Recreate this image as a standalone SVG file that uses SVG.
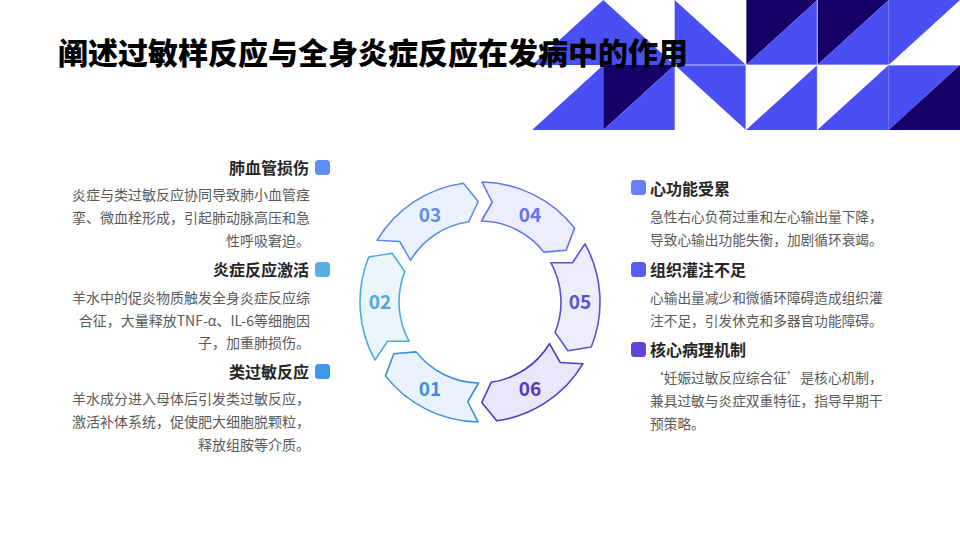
<svg xmlns="http://www.w3.org/2000/svg" xmlns:xlink="http://www.w3.org/1999/xlink" width="960" height="540" viewBox="0 0 960 540">
<style>
.t{font-family:"Noto Sans CJK SC","Noto Sans",sans-serif;}
.title{font-size:30px;font-weight:900;fill:#000;}
.h{font-size:16px;font-weight:700;fill:#262626;}
.b{font-size:14px;fill:#5a5a5a;}
.br{font-size:13.7px;fill:#5a5a5a;}
.num{font-size:19px;font-weight:600;text-anchor:middle;}
.bl{fill:#4a4ff4;}
.dk{fill:#150068;}
.seg{stroke-width:1.6;stroke-linejoin:round;}
</style>
<defs>
<path id="seg" d="M104.95,-58.18 A120,120 0 0 1 111.26,44.95 L87.9,48.72 L75.1,30.34 A81,81 0 0 0 70.84,-39.27 L92.51,-39.27 Z"/>
</defs>
<rect width="960" height="540" fill="#ffffff"/>
<g id="pattern">
<polygon class="bl" points="603.3,0 532,65 674.7,65"/>
<polygon class="bl" points="674.7,0 746,65 674.7,65"/>
<polygon class="dk" points="746,0 817.3,0 746,65"/>
<polygon class="bl" points="817.3,0 817.3,65 746,65"/>
<polygon class="dk" points="817.3,0 888.7,0 817.3,65"/>
<polygon class="bl" points="888.7,0 888.7,65 817.3,65"/>
<polygon class="bl" points="888.7,0 960,0 888.7,65"/>
<polygon class="bl" points="603.3,65 603.3,130 532,130"/>
<polygon class="dk" points="603.3,65 674.7,65 603.3,130"/>
<polygon class="bl" points="674.7,65 674.7,130 603.3,130"/>
<polygon class="bl" points="674.7,65 746,65 746,130"/>
<polygon class="bl" points="817.3,65 817.3,130 746,130"/>
<polygon class="bl" points="888.7,65 888.7,130 817.3,130"/>
<polygon class="bl" points="888.7,65 960,65 888.7,130"/>
<polygon class="dk" points="960,65 960,130 888.7,130"/>
<g stroke="#ffffff" stroke-width="1" stroke-opacity="0.7">
<line x1="674.7" y1="65" x2="960" y2="65"/>
<line x1="746" y1="0" x2="746" y2="130"/>
<line x1="817.3" y1="0" x2="817.3" y2="130"/>
</g>
</g>
<text class="t title" x="58" y="64">阐述过敏样反应与全身炎症反应在发病中的作用</text>
<g id="ring">
<g id="seg01">
<use xlink:href="#seg" class="seg" transform="translate(480,302) rotate(120)" fill="#eaf3fd" stroke="#3d8fe0"/>
<text class="t num" x="430" y="395.6" fill="#3d8fe0">01</text>
</g>
<g id="seg02">
<use xlink:href="#seg" class="seg" transform="translate(480,302) rotate(180)" fill="#eaf5fc" stroke="#4eaadd"/>
<text class="t num" x="380" y="309" fill="#4eaadd">02</text>
</g>
<g id="seg03">
<use xlink:href="#seg" class="seg" transform="translate(480,302) rotate(240)" fill="#ecf2fd" stroke="#5b8df0"/>
<text class="t num" x="430" y="222.4" fill="#5b8df0">03</text>
</g>
<g id="seg04">
<use xlink:href="#seg" class="seg" transform="translate(480,302) rotate(300)" fill="#eceefd" stroke="#6275ee"/>
<text class="t num" x="530" y="222.4" fill="#6275ee">04</text>
</g>
<g id="seg05">
<use xlink:href="#seg" class="seg" transform="translate(480,302) rotate(0)" fill="#eeedfc" stroke="#5a4fd8"/>
<text class="t num" x="580" y="309" fill="#5a4fd8">05</text>
</g>
<g id="seg06">
<use xlink:href="#seg" class="seg" transform="translate(480,302) rotate(60)" fill="#ebe7fb" stroke="#5438c2"/>
<text class="t num" x="530" y="395.6" fill="#5438c2">06</text>
</g>
</g>
<g id="item-lung" class="t">
<rect x="315" y="160" width="15" height="15" rx="3.5" fill="#5b8ff5"/>
<text class="h" x="309" y="174" text-anchor="end">肺血管损伤</text>
<text class="b" text-anchor="end"><tspan x="310" y="200">炎症与类过敏反应协同导致肺小血管痉</tspan><tspan x="310" y="223">挛、微血栓形成，引起肺动脉高压和急</tspan><tspan x="310" y="246">性呼吸窘迫。</tspan></text>
</g>
<g id="item-inflam" class="t">
<rect x="315" y="262" width="15" height="15" rx="3.5" fill="#5aaee2"/>
<text class="h" x="309" y="276" text-anchor="end">炎症反应激活</text>
<text class="b" text-anchor="end"><tspan x="310" y="303">羊水中的促炎物质触发全身炎症反应综</tspan><tspan x="310" y="326">合征，大量释放TNF-α、IL-6等细胞因</tspan><tspan x="310" y="348">子，加重肺损伤。</tspan></text>
</g>
<g id="item-anaph" class="t">
<rect x="315" y="364" width="15" height="15" rx="3.5" fill="#3e98ea"/>
<text class="h" x="309" y="378" text-anchor="end">类过敏反应</text>
<text class="b" text-anchor="end"><tspan x="310" y="404">羊水成分进入母体后引发类过敏反应，</tspan><tspan x="310" y="427">激活补体系统，促使肥大细胞脱颗粒，</tspan><tspan x="310" y="450">释放组胺等介质。</tspan></text>
</g>
<g id="item-heart" class="t">
<rect x="631" y="180" width="15" height="15" rx="3.5" fill="#6a7ff5"/>
<text class="h" x="650" y="195">心功能受累</text>
<text class="br"><tspan x="650" y="222">急性右心负荷过重和左心输出量下降，</tspan><tspan x="650" y="245">导致心输出功能失衡，加剧循环衰竭。</tspan></text>
</g>
<g id="item-perf" class="t">
<rect x="631" y="262" width="15" height="15" rx="3.5" fill="#5a5cf0"/>
<text class="h" x="650" y="276">组织灌注不足</text>
<text class="br"><tspan x="650" y="303">心输出量减少和微循环障碍造成组织灌</tspan><tspan x="650" y="326">注不足，引发休克和多器官功能障碍。</tspan></text>
</g>
<g id="item-core" class="t">
<rect x="631" y="342" width="15" height="15" rx="3.5" fill="#6545d8"/>
<text class="h" x="650" y="356">核心病理机制</text>
<text class="br"><tspan x="650" y="383">‘妊娠过敏反应综合征’是核心机制，</tspan><tspan x="650" y="406">兼具过敏与炎症双重特征，指导早期干</tspan><tspan x="650" y="429">预策略。</tspan></text>
</g>
</svg>
